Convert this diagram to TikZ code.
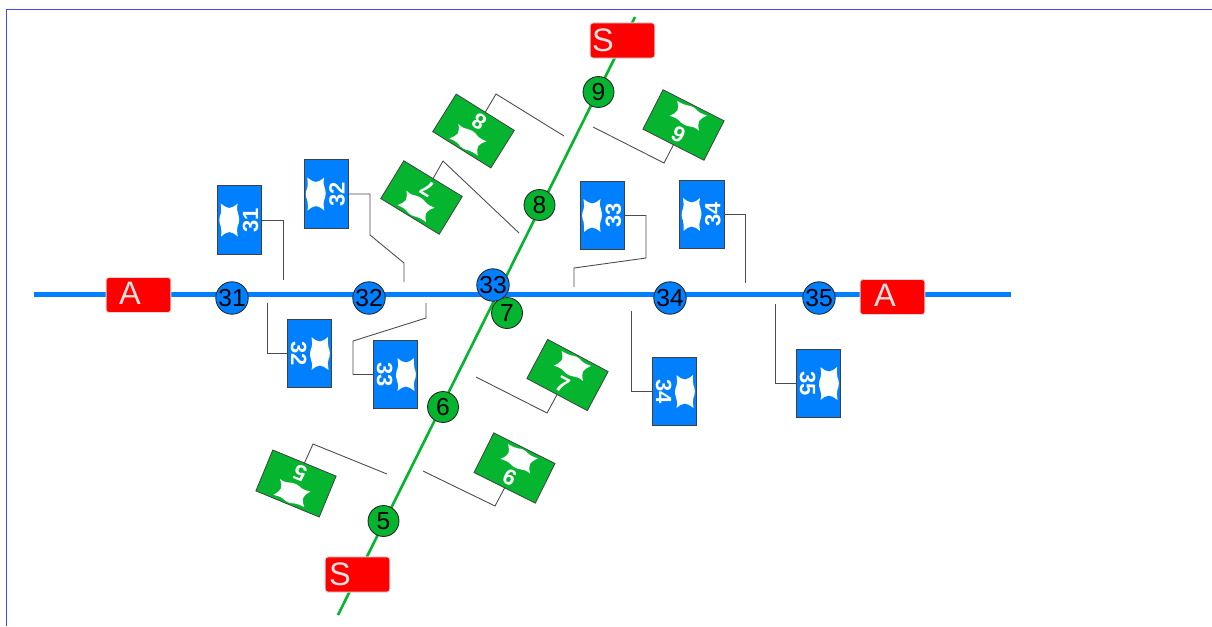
\documentclass[tikz,border=0pt]{standalone}
\usepackage{fontspec}
\setmainfont{Liberation Sans}
\definecolor{tblue}{HTML}{0080FF}
\definecolor{tgreen}{HTML}{05B52F}
\definecolor{frameblue}{HTML}{4646F5}
\newcommand{\fsz}[1]{\fontsize{#1}{#1}\selectfont}
\tikzset{
  x=0.02cm,y=-0.02cm,
  trackA/.style={draw=tblue,line width=3.4pt},
  trackS/.style={draw=tgreen,line width=1.5pt},
  redsign/.style={draw=black!15,line width=0.6pt,fill=red,rounded corners=1.5pt,minimum width=36.8pt,minimum height=20pt,inner sep=0pt,outer sep=0pt},
  signtext/.style={text=black!12,inner sep=0pt,font=\fsz{18.5}},
  stop/.style={circle,draw=black!85,line width=0.5pt,minimum size=17.6pt,inner sep=0pt,font=\fsz{14},text=black},
  tile/.style={rectangle,draw=black!75,line width=0.45pt,minimum width=39pt,minimum height=25.2pt,inner sep=0pt,outer sep=0pt,transform shape},
  tilenum/.style={text=white,inner sep=0pt,font=\fsz{12.5}\bfseries,transform shape},
  leader/.style={draw=black!70,line width=0.5pt},
}
\newcommand{\hide}{%
  \fill[white] (-16.5,-8) .. controls (-12,-8) and (-9,-7.5) .. (-6,-8.5)
    .. controls (-3,-10) and (2,-10.5) .. (6,-8.5)
    .. controls (9,-7.5) and (13,-8) .. (16.5,-8.5)
    .. controls (14,-5) and (12,-2.5) .. (12,0)
    .. controls (12,3) and (14,5.5) .. (16.5,8.5)
    .. controls (12,7.5) and (9,7.5) .. (6,9)
    .. controls (2,10.5) and (-3,10) .. (-6,8.5)
    .. controls (-9,7.5) and (-13,8) .. (-16.5,8.5)
    .. controls (-14,5.5) and (-12,3) .. (-12,0)
    .. controls (-12,-2.5) and (-14,-5) .. (-16.5,-8) -- cycle;}
\newcommand{\tileat}[6]{% name, x, y, rotation, number, colour
  \begin{scope}[shift={(#2,#3)},rotate=#4]
    \node[tile,fill=#6] (#1) at (0,0) {};
    \begin{scope}[shift={(0,-10.5)}]\hide\end{scope}
    \node[tilenum] (#1n) at (0,10.8) {#5};
  \end{scope}}
\begin{document}
\begin{tikzpicture}
\useasboundingbox (0,0) rectangle (1212,626);
\fill[white] (0,0) rectangle (1212,626);
% page frame
\coordinate (fa) at (6.5,626);
\coordinate (fb) at (6.5,9.5);
\coordinate (fc) at (1212,9.5);
\draw[frameblue,line width=0.45pt] (fa) -- (fb) -- (fc);
% tracks
\coordinate (Aw) at (34,294.5);
\coordinate (Ae) at (1011,294.5);
\coordinate (Sn) at (635,17);
\coordinate (Ss) at (338,615);
\draw[trackS] (Ss) -- (Sn);
\draw[trackA] (Aw) -- (Ae);
% signs
\node[redsign] (signAw) at (138.5,295) {};
\node[signtext] (signAwt) at (130,293.5) {A};
\node[redsign] (signAe) at (892.5,297) {};
\node[signtext] (signAet) at (885,295.5) {A};
\node[redsign] (signSn) at (622.5,40.5) {};
\node[signtext] (signSnt) at (603,40.5) {S};
\node[redsign] (signSs) at (357.5,574.5) {};
\node[signtext] (signSst) at (340,574.5) {S};
% stations
\node[stop,fill=tblue] (s31) at (232,298) {31};
\node[stop,fill=tblue] (s32) at (369,298) {32};
\node[stop,fill=tgreen] (g7) at (507,313) {7};
\node[stop,fill=tblue] (s33) at (493,285) {33};
\node[stop,fill=tblue] (s34) at (670,298) {34};
\node[stop,fill=tblue] (s35) at (819,298) {35};
\node[stop,fill=tgreen] (g5) at (383.5,521) {5};
\node[stop,fill=tgreen] (g6) at (443,407) {6};
\node[stop,fill=tgreen] (g8) at (539.5,205) {8};
\node[stop,fill=tgreen] (g9) at (598.5,92) {9};
% blue tiles
\tileat{ba31}{239.7}{220}{90}{31}{tblue}
\tileat{ba32}{326.2}{194}{90}{32}{tblue}
\tileat{ba33}{602.5}{215.5}{90}{33}{tblue}
\tileat{ba34}{702}{214.5}{90}{34}{tblue}
\tileat{bb32}{309.5}{353.5}{-90}{32}{tblue}
\tileat{bb33}{395.5}{374.5}{-90}{33}{tblue}
\tileat{bb34}{674.5}{391.5}{-90}{34}{tblue}
\tileat{bb35}{818.5}{383.5}{-90}{35}{tblue}
% green tiles
\tileat{gt8}{473.5}{131}{148}{8}{tgreen}
\tileat{gt7}{421.5}{197.5}{148.6}{7}{tgreen}
\tileat{gt9}{683.5}{125}{-27}{9}{tgreen}
\tileat{gb7}{567.5}{375}{-28}{7}{tgreen}
\tileat{gb6}{514.5}{468}{-26.5}{6}{tgreen}
\tileat{gb5}{296}{483.5}{157.6}{5}{tgreen}
% leader ends
\foreach \n/\x/\y in {
  e31/283/280, e32a/370/235, e32b/404/263, e32c/404/282,
  e33a/646/258, e33b/574/268, e33c/574/287,
  e34/745/283, f32/267/303,
  f33a/353/341, f33b/426/318, f33c/426/303,
  f34/631/311, f35/775/304,
  h8a/496/94, h8b/564/136,
  h7a/443/161, h7b/519/233,
  h9a/664/163, h9b/593/127,
  k7a/547/413, k7b/476/377,
  k6a/495/506, k6b/423/471,
  k5a/313/444, k5b/387/474}
  {\coordinate (\n) at (\x,\y);}
% leaders
\draw[leader] (ba31.south) -| (e31);
\draw[leader] (ba32.south) -| (e32a) -- (e32b) -- (e32c);
\draw[leader] (ba33.south) -| (e33a) -- (e33b) -- (e33c);
\draw[leader] (ba34.south) -| (e34);
\draw[leader] (bb32.south) -| (f32);
\draw[leader] (bb33.south) -| (f33a) -- (f33b) -- (f33c);
\draw[leader] (bb34.south) -| (f34);
\draw[leader] (bb35.south) -| (f35);
\draw[leader] (gt8.south) -- (h8a) -- (h8b);
\draw[leader] (gt7.south) -- (h7a) -- (h7b);
\draw[leader] (gt9.south) -- (h9a) -- (h9b);
\draw[leader] (gb7.south) -- (k7a) -- (k7b);
\draw[leader] (gb6.south) -- (k6a) -- (k6b);
\draw[leader] (gb5.south) -- (k5a) -- (k5b);
\end{tikzpicture}
\end{document}
